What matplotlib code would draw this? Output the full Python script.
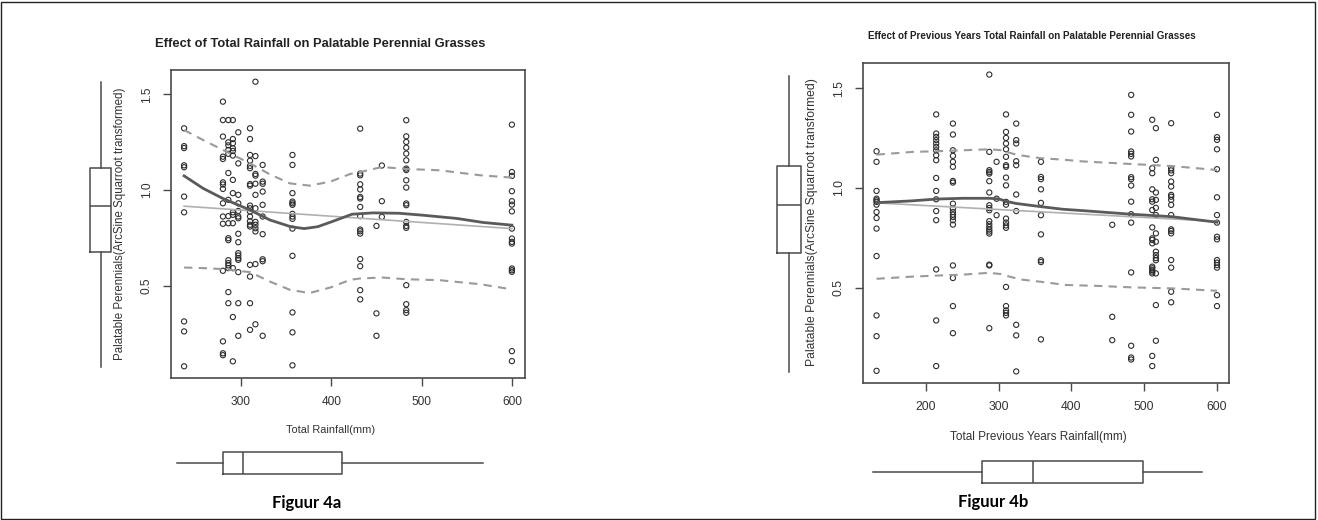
import numpy as np
import matplotlib.pyplot as plt
from matplotlib.patches import Rectangle

plt.rcParams['font.family'] = ['Liberation Sans', 'DejaVu Sans']

# ---- Figuur 4a: total rainfall (mm) per sampling column, and transformed cover values
rain_a = [237, 280, 286, 291, 297, 310, 316, 324, 357, 432, 450, 456, 483, 600]
pp_a = [
    [1.323, 1.23, 1.22, 1.13, 1.12, 0.967, 0.885, 0.316, 0.264, 0.082],
    [1.462, 1.366, 1.28, 1.175, 1.163, 1.041, 1.03, 1.007, 0.932, 0.863, 0.825, 0.58, 0.212, 0.15, 0.14],
    [1.366, 1.25, 1.234, 1.21, 1.19, 1.09, 0.95, 0.865, 0.828, 0.75, 0.74, 0.635, 0.62, 0.608, 0.594, 0.469, 0.411],
    [1.366, 1.267, 1.245, 1.219, 1.205, 1.181, 1.054, 0.985, 0.885, 0.872, 0.828, 0.594, 0.339, 0.108],
    [1.302, 1.14, 0.976, 0.932, 0.892, 0.863, 0.854, 0.773, 0.729, 0.672, 0.66, 0.646, 0.637, 0.573, 0.411, 0.241],
    [1.323, 1.267, 1.184, 1.154, 1.127, 1.115, 1.032, 1.024, 0.92, 0.906, 0.889, 0.863, 0.838, 0.82, 0.811, 0.611, 0.55, 0.411, 0.272],
    [1.566, 1.178, 1.085, 1.076, 1.034, 0.976, 0.906, 0.835, 0.82, 0.802, 0.785, 0.615, 0.301],
    [1.132, 1.045, 1.034, 0.993, 0.924, 0.863, 0.771, 0.64, 0.63, 0.241],
    [1.184, 1.132, 0.985, 0.941, 0.932, 0.924, 0.877, 0.863, 0.851, 0.8, 0.658, 0.363, 0.259, 0.087],
    [1.321, 1.087, 1.078, 1.031, 1.004, 0.965, 0.957, 0.913, 0.865, 0.795, 0.786, 0.774, 0.641, 0.604, 0.479, 0.431],
    [0.814, 0.358, 0.241],
    [1.129, 0.943, 0.861],
    [1.365, 1.281, 1.252, 1.222, 1.191, 1.156, 1.113, 1.105, 1.052, 1.014, 0.931, 0.922, 0.835, 0.814, 0.804, 0.505, 0.406, 0.375, 0.361],
    [1.342, 1.095, 1.075, 0.995, 0.943, 0.925, 0.89, 0.8, 0.748, 0.731, 0.722, 0.592, 0.583, 0.575, 0.161, 0.109],
]
smooth_x_a = [237, 258, 280, 310, 332, 355, 370, 385, 400, 423, 446, 475, 501, 539, 568, 600]
smooth_a = [1.075, 1.01, 0.957, 0.897, 0.845, 0.81, 0.80, 0.81, 0.835, 0.875, 0.882, 0.88, 0.87, 0.853, 0.832, 0.818]
band_x_a = [237, 258, 280, 310, 332, 354, 376, 399, 421, 432, 456, 483, 520, 565, 600]
upper_a = [1.314, 1.262, 1.21, 1.14, 1.083, 1.036, 1.024, 1.045, 1.085, 1.095, 1.121, 1.111, 1.104, 1.078, 1.066]
lower_a = [0.597, 0.594, 0.589, 0.573, 0.524, 0.481, 0.464, 0.493, 0.533, 0.54, 0.545, 0.536, 0.531, 0.51, 0.483]
reg_x_a = [237, 600]
reg_a = [0.917, 0.80]
box_rain_a = dict(whislo=237, q1=292, med=315, q3=433, whishi=600)

# ---- Figuur 4b: previous years total rainfall (mm)
rain_b = [132, 214, 237, 287, 297, 310, 324, 358, 456, 482, 511, 516, 537, 600]
pp_b = [
    [1.184, 1.131, 0.985, 0.946, 0.938, 0.93, 0.916, 0.879, 0.849, 0.796, 0.658, 0.36, 0.256, 0.082],
    [1.369, 1.273, 1.256, 1.24, 1.223, 1.206, 1.189, 1.164, 1.139, 1.05, 0.985, 0.943, 0.884, 0.838, 0.591, 0.335, 0.106],
    [1.323, 1.268, 1.189, 1.161, 1.131, 1.106, 1.035, 1.027, 0.921, 0.896, 0.879, 0.866, 0.854, 0.838, 0.816, 0.611, 0.548, 0.407, 0.271],
    [1.569, 1.181, 1.089, 1.08, 1.072, 1.034, 0.977, 0.913, 0.899, 0.888, 0.833, 0.818, 0.804, 0.791, 0.781, 0.771, 0.615, 0.611, 0.296],
    [1.131, 0.946, 0.863],
    [1.369, 1.281, 1.251, 1.223, 1.194, 1.156, 1.114, 1.106, 1.052, 1.013, 0.93, 0.916, 0.846, 0.826, 0.812, 0.8, 0.503, 0.407, 0.385, 0.373, 0.36],
    [1.323, 1.24, 1.223, 1.134, 1.114, 0.967, 0.884, 0.313, 0.26, 0.079],
    [1.131, 1.055, 1.044, 0.993, 0.925, 0.863, 0.767, 0.637, 0.628, 0.24],
    [0.815, 0.353, 0.236],
    [1.467, 1.367, 1.283, 1.183, 1.171, 1.158, 1.054, 1.044, 1.012, 0.931, 0.868, 0.826, 0.576, 0.208, 0.149, 0.139],
    [1.342, 1.099, 1.074, 0.993, 0.943, 0.931, 0.889, 0.802, 0.747, 0.739, 0.722, 0.605, 0.597, 0.588, 0.58, 0.571, 0.157, 0.106],
    [1.3, 1.141, 0.977, 0.94, 0.9, 0.864, 0.772, 0.73, 0.68, 0.663, 0.648, 0.637, 0.571, 0.412, 0.233],
    [1.325, 1.099, 1.088, 1.074, 1.032, 1.007, 0.965, 0.956, 0.94, 0.915, 0.864, 0.792, 0.784, 0.772, 0.638, 0.6, 0.479, 0.426],
    [1.367, 1.255, 1.241, 1.194, 1.094, 0.953, 0.864, 0.826, 0.755, 0.742, 0.638, 0.625, 0.613, 0.6, 0.462, 0.407],
]
smooth_x_b = [132, 180, 214, 250, 287, 300, 311, 324, 358, 388, 416, 482, 537, 600]
smooth_b = [0.926, 0.935, 0.944, 0.948, 0.948, 0.945, 0.932, 0.922, 0.906, 0.893, 0.886, 0.868, 0.856, 0.828]
upper_x_b = [132, 182, 214, 251, 287, 302, 325, 358, 388, 416, 482, 537, 600]
upper_b = [1.167, 1.181, 1.184, 1.189, 1.194, 1.19, 1.166, 1.149, 1.142, 1.133, 1.12, 1.11, 1.09]
lower_x_b = [132, 182, 214, 251, 287, 302, 329, 358, 392, 439, 482, 537, 600]
lower_b = [0.544, 0.555, 0.56, 0.565, 0.574, 0.568, 0.541, 0.529, 0.513, 0.508, 0.501, 0.496, 0.484]
reg_x_b = [132, 600]
reg_b = [0.925, 0.832]
box_rain_b = dict(whislo=132, q1=287, med=360, q3=516, whishi=600)

# the response variable is the same in both panels
box_pp = dict(whislo=0.078, q1=0.678, med=0.917, q3=1.115, whishi=1.566)

W, H = 1318, 520
fig = plt.figure(figsize=(W / 100, H / 100), dpi=100)
fig.patches.append(Rectangle((0.001, 0.002), 0.997, 0.995, transform=fig.transFigure,
                             fill=False, edgecolor='#222222', linewidth=1))

DARK = '#333333'
FRAME = '#4a4a4a'


def place(l, t, r, b):
    return [l / W, 1 - b / H, (r - l) / W, (b - t) / H]


def scatter_panel(ax, xs, ys, sx, sy, bx, up, bx2, lo, rx, ry, xticks, xlim, lsize):
    for xv, col in zip(xs, ys):
        ax.scatter([xv] * len(col), col, s=14, facecolors='none', edgecolors='#2e2e2e',
                   linewidths=0.8, zorder=3)
    ax.plot(rx, ry, color='#b0b0b0', lw=1.2, zorder=4)
    ax.plot(sx, sy, color='#5a5a5a', lw=2.0, zorder=5)
    ax.plot(bx, up, color='#9a9a9a', lw=1.5, dashes=(4, 3), zorder=4)
    ax.plot(bx2, lo, color='#9a9a9a', lw=1.5, dashes=(4, 3), zorder=4)
    ax.set_xlim(*xlim)
    ax.set_ylim(0.021, 1.627)
    ax.set_xticks(xticks)
    ax.set_xticklabels([str(t) for t in xticks])
    ax.set_yticks([0.5, 1.0, 1.5])
    ax.set_yticklabels(['0.5', '1.0', '1.5'], rotation=90, va='center')
    ax.tick_params(direction='out', length=6, width=1, color=FRAME, labelcolor=DARK,
                   labelsize=lsize, pad=7)
    for sp in ax.spines.values():
        sp.set_color(FRAME)
        sp.set_linewidth(1.2)


def box_panel(ax, stats, orient, width):
    st = dict(stats)
    st['fliers'] = []
    props = dict(color=FRAME, linewidth=1.1)
    ax.bxp([st], positions=[0.5], widths=width, orientation=orient, showcaps=False,
           showfliers=False, patch_artist=False, boxprops=props, whiskerprops=props,
           medianprops=props)
    ax.set_axis_off()


# ---- panel a
ax_a = fig.add_axes(place(171, 70, 525, 378))
scatter_panel(ax_a, rain_a, pp_a, smooth_x_a, smooth_a, band_x_a, upper_a, band_x_a, lower_a,
              reg_x_a, reg_a, [300, 400, 500, 600], (222.5, 614.5), 8.6)

ax_ay = fig.add_axes(place(85, 70, 116, 378))
box_panel(ax_ay, box_pp, 'vertical', 21 / 31)
ax_ay.set_xlim(0, 1)
ax_ay.set_ylim(0.021, 1.627)

ax_ax = fig.add_axes(place(150, 440, 520, 486))
box_panel(ax_ax, box_rain_a, 'horizontal', 22 / 46)
ax_ax.set_xlim(237 - 27 / 0.843, 600 + 37 / 0.843)
ax_ax.set_ylim(0, 1)

fig.text(320 / W, 1 - 44 / H, 'Effect of Total Rainfall on Palatable Perennial Grasses',
         ha='center', va='center', fontsize=9.3, fontweight='bold', color='#222222')
fig.text(331 / W, 1 - 430 / H, 'Total Rainfall(mm)', ha='center', va='center',
         fontsize=7.9, color=DARK)
fig.text(120 / W, 1 - 224 / H, 'Palatable Perennials(ArcSine Squarroot transformed)',
         ha='center', va='center', rotation=90, fontsize=8.3, color=DARK)
fig.text(307 / W, 1 - 503 / H, 'Figuur 4a', ha='center', va='center', fontsize=12,
         fontweight='bold', family=['Lato', 'DejaVu Sans'], color='black')

# ---- panel b
ax_b = fig.add_axes(place(863, 63, 1229, 383))
scatter_panel(ax_b, rain_b, pp_b, smooth_x_b, smooth_b, upper_x_b, upper_b, lower_x_b, lower_b,
              reg_x_b, reg_b, [200, 300, 400, 500, 600], (113.4, 616.5), 8.8)

ax_by = fig.add_axes(place(770, 63, 808, 383))
box_panel(ax_by, box_pp, 'vertical', 24 / 38)
ax_by.set_xlim(0, 1)
ax_by.set_ylim(0.023, 1.63)

ax_bx = fig.add_axes(place(845, 449, 1230, 495))
box_panel(ax_bx, box_rain_b, 'horizontal', 22 / 46)
ax_bx.set_xlim(132 - 28 / 0.703, 600 + 28 / 0.703)
ax_bx.set_ylim(0, 1)

fig.text(1032 / W, 1 - 36 / H, 'Effect of Previous Years Total Rainfall on Palatable Perennial Grasses',
         ha='center', va='center', fontsize=7.1, fontweight='bold', color='#222222')
fig.text(1038 / W, 1 - 437 / H, 'Total Previous Years Rainfall(mm)', ha='center', va='center',
         fontsize=8.5, color=DARK)
fig.text(812 / W, 1 - 222 / H, 'Palatable Perennials(ArcSine Squarroot transformed)',
         ha='center', va='center', rotation=90, fontsize=8.7, color=DARK)
fig.text(993 / W, 1 - 502 / H, 'Figuur 4b', ha='center', va='center', fontsize=12,
         fontweight='bold', family=['Lato', 'DejaVu Sans'], color='black')

fig.savefig('out.png', dpi=100)
